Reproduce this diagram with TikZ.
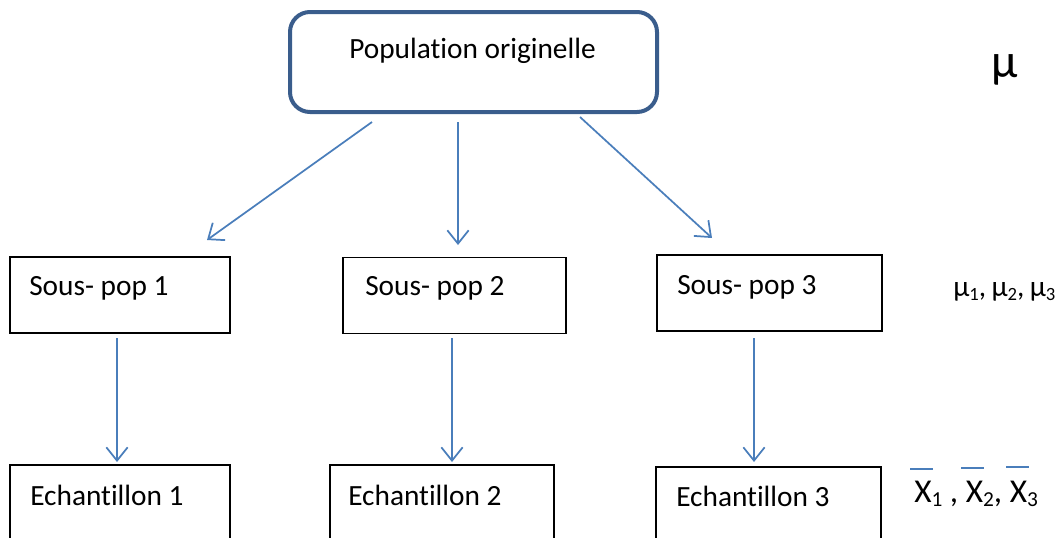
\documentclass[tikz,border=0pt]{standalone}
\usepackage{fontspec}
\setmainfont{Carlito}[Ligatures={NoCommon,NoContextual}]
\usetikzlibrary{arrows.meta}
\definecolor{arrblue}{HTML}{4A7EBB}
\definecolor{boxblue}{HTML}{3A5D8C}
\newcommand\mysubs[1]{\raisebox{-0.3ex}{\fontsize{14}{14}\selectfont #1}}
\newcommand\mysubx[1]{\raisebox{-0.3ex}{\fontsize{16}{16}\selectfont #1}}
\begin{document}
\begin{tikzpicture}[x=0.75pt,y=-0.75pt,
  lbl/.style={font=\fontsize{22}{26}\selectfont, inner sep=0pt, anchor=base west},
  mainbox/.style={draw=boxblue, line width=3pt, rounded corners=15pt, minimum width=275.25pt, minimum height=75pt, inner sep=0pt},
  pbox/.style={draw=black, line width=1pt, minimum height=57pt, inner sep=0pt},
  arr/.style={draw=arrblue, line width=1.3pt, -{Straight Barb[length=10pt,width=16pt]}},
  barline/.style={draw=arrblue, line width=1.5pt}
]
\path[use as bounding box] (0,0) rectangle (1063,537);

% top box
\node[mainbox] (pop) at (473.5,62) {};
\node[lbl] (poptxt) at (349,58) {Population originelle};
\node[font=\fontsize{36}{40}\selectfont, inner sep=0pt, anchor=base west] (mu) at (991,77) {μ};

% sub-populations
\node[pbox, minimum width=165pt] (s1) at (120,295) {};
\node[pbox, minimum width=167.25pt] (s2) at (454.5,295.5) {};
\node[pbox, minimum width=168.75pt] (s3) at (769.5,293) {};
\node[lbl] (s1t) at (29,295) {Sous- pop 1};
\node[lbl] (s2t) at (365,295) {Sous- pop 2};
\node[lbl] (s3t) at (677,294) {Sous- pop 3};
\node[lbl] (mus) at (953,296) {μ\mysubs{1},\hspace{4pt}μ\mysubs{2},\hspace{4pt}μ\mysubs{3}};

% samples
\node[pbox, minimum width=165pt, minimum height=63pt] (e1) at (120,507) {};
\node[pbox, minimum width=168pt, minimum height=63pt] (e2) at (442,507) {};
\node[pbox, minimum width=168.75pt, minimum height=63pt] (e3) at (768.5,509) {};
\node[lbl] (e1t) at (30,505) {Echantillon 1};
\node[lbl] (e2t) at (348,505) {Echantillon 2};
\node[lbl] (e3t) at (676,506) {Echantillon 3};
\node[lbl, font=\fontsize{25}{28}\selectfont] (xs) at (914,502) {X\mysubx{1} , X\mysubx{2}, X\mysubx{3}};
\draw[barline] (910,469) -- (933,469);
\draw[barline] (961,468) -- (984,468);
\draw[barline] (1006,467) -- (1029,467);

% connector end points
\coordinate (a1s) at (372,122); \coordinate (a1e) at (207,240);
\coordinate (a2s) at (458,122); \coordinate (a2e) at (458,245);
\coordinate (a3s) at (580,117); \coordinate (a3e) at (712,238);
\coordinate (b1s) at (117,338); \coordinate (b1e) at (117,462);
\coordinate (b2s) at (452,338); \coordinate (b2e) at (452,462);
\coordinate (b3s) at (754,338); \coordinate (b3e) at (754,462);

\draw[arr] (a1s) -- (a1e);
\draw[arr] (a2s) -- (a2e);
\draw[arr] (a3s) -- (a3e);
\draw[arr] (b1s) -- (b1e);
\draw[arr] (b2s) -- (b2e);
\draw[arr] (b3s) -- (b3e);
\end{tikzpicture}
\end{document}
